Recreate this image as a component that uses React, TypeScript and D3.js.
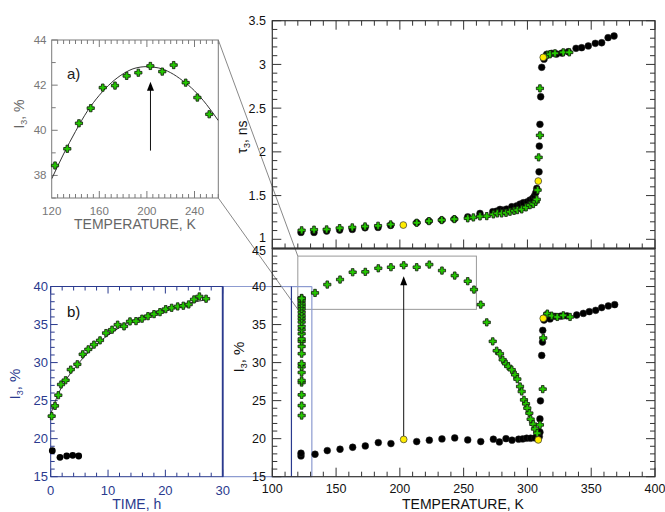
import React from "react";
import * as d3 from "d3";

// tick labels
const tempTicks = [100, 150, 200, 250, 300, 350, 400];
const tauTicks = [1, 1.5, 2, 2.5, 3, 3.5];
const i3Ticks = [15, 20, 25, 30, 35, 40, 45];
const insetATempTicks = [120, 160, 200, 240];
const insetAI3Ticks = [38, 40, 42, 44];
const timeTicks = [0, 10, 20, 30];
const insetBI3Ticks = [15, 20, 25, 30, 35, 40];

// top panel: tau3 vs temperature
const tauCircleT = [122.5, 132.7, 142.6, 152.8, 162.7, 172.7, 182.9, 192.8, 213.2, 222.8, 232.8, 242.7, 253.2, 262.8, 272.8, 275.9, 278.5, 281.1, 283.7, 287.7, 291.6, 294.2, 296.8, 299.9, 302, 304.1, 305.4, 306.5, 307.3, 309.1, 309.3, 309.8, 310.4, 311.2, 313, 315.1, 319, 322.9, 327, 332, 338.1, 342.5, 347.7, 353.2, 358.2, 363.2, 367.9];
const tauCircleV = [1.079, 1.079, 1.094, 1.105, 1.113, 1.132, 1.136, 1.159, 1.189, 1.208, 1.22, 1.231, 1.257, 1.296, 1.315, 1.323, 1.342, 1.334, 1.346, 1.372, 1.383, 1.403, 1.418, 1.429, 1.449, 1.468, 1.494, 1.532, 1.582, 1.772, 2.066, 2.315, 2.63, 2.967, 3.06, 3.116, 3.127, 3.119, 3.13, 3.145, 3.184, 3.191, 3.211, 3.241, 3.248, 3.306, 3.325];
const tauCrossT = [123, 132.7, 142.6, 152.8, 162.7, 172.7, 182.9, 192.8, 213.2, 222.8, 232.8, 242.7, 253.2, 257.6, 262.8, 268.1, 273.3, 276.4, 279.8, 283.2, 286.3, 289.5, 292.1, 295.5, 298.9, 302, 304.6, 306.5, 307.3, 308, 308.8, 309.8, 309.8, 315.6, 317.7, 321.6, 328.1, 332.8];
const tauCrossV = [1.103, 1.11, 1.113, 1.128, 1.136, 1.147, 1.155, 1.17, 1.189, 1.208, 1.22, 1.231, 1.24, 1.25, 1.262, 1.265, 1.285, 1.296, 1.296, 1.303, 1.315, 1.326, 1.334, 1.342, 1.365, 1.391, 1.403, 1.429, 1.456, 1.563, 1.937, 2.189, 2.726, 3.11, 3.116, 3.127, 3.138, 3.138];
const tauYellowT = [202.7, 308.5, 312.4];
const tauYellowV = [1.163, 1.666, 3.081];

// bottom panel: I3 vs temperature
const i3CircleT = [122.5, 122.5, 133.5, 143.1, 153.1, 163, 172.9, 183.1, 193, 213.2, 223.1, 233, 243, 253.2, 263.4, 273.3, 278, 283.2, 287.9, 293.1, 296.3, 299.4, 302.5, 305.9, 309.3, 309.8, 309.8, 310.2, 311.2, 311.8, 312, 313, 315.1, 317.7, 321.6, 326, 331, 338.6, 343.8, 348.5, 353.5, 358.2, 363.4, 368.4];
const i3CircleV = [17.73, 18.08, 17.95, 18.43, 18.61, 18.87, 19.04, 19.48, 19.35, 19.62, 19.8, 19.97, 20.1, 19.84, 19.62, 19.93, 19.57, 20.0, 19.8, 19.93, 19.97, 20.06, 20.06, 20.1, 20.27, 20.85, 22.6, 24.97, 30.94, 32.7, 34.24, 35.6, 36.3, 35.74, 36.08, 36.1, 36.15, 36.26, 36.47, 36.7, 36.87, 37.23, 37.45, 37.62];
const i3CrossT = [123, 133.5, 143.1, 153.1, 163, 172.9, 183.1, 193, 203, 213.2, 223.1, 233, 243, 253.2, 258.1, 263.4, 268.1, 272.8, 275.9, 278.5, 280.6, 283.2, 285, 287.7, 290.3, 292.1, 294.2, 295.5, 297.3, 298.9, 299.9, 301.5, 302.5, 304.6, 305.9, 307.7, 309.8, 312, 312.4, 315.6, 319, 323.4, 328.1, 333.4];
const i3CrossV = [38.44, 39.16, 40.26, 40.92, 41.88, 41.93, 42.4, 42.54, 42.8, 42.54, 42.89, 42.1, 41.44, 40.7, 39.6, 37.62, 35.29, 32.79, 31.56, 31.17, 30.38, 29.85, 29.5, 29.06, 28.4, 27.83, 26.86, 26.2, 25.1, 24.58, 24.01, 23.35, 22.56, 21.9, 21.28, 20.72, 21.81, 26.51, 33.24, 36.44, 36.17, 36.0, 36.21, 36.0];
// isothermal hold at 123 K (same column of crosses)
const holdTemp = 123;
const holdI3 = [23.04, 24.35, 25.76, 27.38, 27.65, 28.7, 29.45, 29.85, 31.17, 32.13, 32.79, 33.1, 33.8, 34.33, 34.77, 35.34, 35.78, 36.17, 36.61, 37.05, 37.4, 37.75, 38.15, 38.5];
const i3YellowT = [203, 308.5, 312.4];
const i3YellowV = [19.9, 19.84, 35.82];

// inset a)
const insetATemp = [122.8, 133.1, 142.9, 152.8, 162.9, 173.2, 183, 192.8, 202.9, 212.9, 222.5, 232.6, 242.4, 252.4];
const insetAI3 = [38.44, 39.18, 40.31, 40.98, 41.89, 41.98, 42.41, 42.55, 42.85, 42.6, 42.89, 42.11, 41.45, 40.71];
const fitATemp = [120, 130, 140, 150, 160, 170, 180, 190, 200, 210, 220, 230, 240, 250, 260];
const fitAI3 = [37.85, 38.95, 39.95, 40.85, 41.55, 42.1, 42.5, 42.75, 42.82, 42.76, 42.55, 42.2, 41.75, 41.15, 40.43];

// inset b)
const timeH = [0.17, 0.75, 1.33, 1.8, 2.6, 3.5, 4.65, 5.58, 6.56, 7.55, 8.6, 9.65, 10.7, 11.68, 12.79, 13.83, 14.88, 15.93, 16.97, 18.02, 19.06, 20.06, 21.1, 22.15, 23.13, 24.07, 25, 25.93, 27.1];
const timeI3 = [22.96, 24.31, 25.71, 27.12, 27.68, 29.08, 29.78, 31.09, 31.74, 32.36, 32.92, 33.88, 34.32, 34.98, 34.76, 35.41, 35.45, 35.77, 36.1, 36.37, 36.63, 37.02, 37.2, 37.38, 37.47, 37.64, 38.3, 38.69, 38.39];
const timeCircleH = [0.28, 1.62, 2.79, 3.84, 4.88];
const timeCircleI3 = [18.42, 17.55, 17.72, 17.81, 17.72];
const fitBH = [0, 0.5, 1, 2, 3, 4, 6, 8, 10, 12, 14, 16, 18, 20, 22, 24, 26, 27.5];
const fitBI3 = [23.2, 24.3, 25.3, 26.9, 28.1, 29.1, 30.9, 32.4, 33.6, 34.6, 35.4, 36.0, 36.6, 37.05, 37.45, 37.8, 38.1, 38.3];

const FONT = "'Liberation Sans', Arial, Helvetica, sans-serif";
const GREEN = "#24c800";
const NAVY = "#2a3a8e";
const LIGHTBLUE = "#8d9bd0";
const GRAY = "#7a7a7a";

const mx = d3.scaleLinear().domain([100, 400]).range([272.3, 655]);
const tauY = d3.scaleLinear().domain([1, 3.5]).range([239.3, 20.7]);
const i3Y = d3.scaleLinear().domain([15, 45]).range([476.7, 248.5]);
const ax = d3.scaleLinear().domain([120, 260]).range([51.7, 218.3]);
const ay = d3.scaleLinear().domain([37, 44]).range([198, 40]);
const bx = d3.scaleLinear().domain([0, 30]).range([50.7, 222.7]);
const by = d3.scaleLinear().domain([15, 40]).range([476.7, 286.5]);

const plus = (cx: number, cy: number, r = 3.6, w = 1.3) =>
  `M${cx - w},${cy - r}H${cx + w}V${cy - w}H${cx + r}V${cy + w}H${cx + w}V${cy + r}H${cx - w}V${cy + w}H${cx - r}V${cy - w}H${cx - w}Z`;

const Cross = ({ x, y }: { x: number; y: number }) => (
  <path d={plus(x, y)} fill={GREEN} stroke="#152010" strokeWidth={0.85} />
);

const near = (a: number, list: number[]) => list.some((b) => Math.abs(a - b) < 1e-6);

// vertical axis ticks: x fixed, len signed (positive = to the right)
const vTicks = (vals: number[], x: number, y: (v: number) => number, len: number, stroke: string, key: string) =>
  vals.map((v, i) => (
    <line key={key + i} x1={x} x2={x + len} y1={y(v)} y2={y(v)} stroke={stroke} strokeWidth={1} />
  ));
const hTicks = (vals: number[], y: number, x: (v: number) => number, len: number, stroke: string, key: string) =>
  vals.map((v, i) => (
    <line key={key + i} x1={x(v)} x2={x(v)} y1={y} y2={y + len} stroke={stroke} strokeWidth={1} />
  ));

const arrowHead = (x: number, y: number) => `M${x},${y}L${x - 3.5},${y + 9}L${x + 3.5},${y + 9}Z`;

const Sub3 = ({ main, rest }: { main: string; rest: string }) => (
  <>
    {main}
    <tspan fontSize={9} dy={3}>3</tspan>
    <tspan dy={-3}>{rest}</tspan>
  </>
);

export default function App() {
  const L = mx(100), R = mx(400);
  const top = tauY(3.5), mid = i3Y(45), bot = i3Y(15);

  const tempMinor = d3.range(100, 401, 10).filter((v) => !near(v, tempTicks));
  const tauMinor = d3.range(10, 36, 1).map((v) => v / 10).filter((v) => !near(v, tauTicks));
  const i3Minor = d3.range(15, 46, 1).filter((v) => !near(v, i3Ticks));

  const aTempMinor = d3.range(120, 261, 5).filter((v) => !near(v, [120, 160, 200, 240]));
  const aI3Minor = [37, 39, 41, 43];
  const bTimeMinor = d3.range(0, 31, 2).filter((v) => v % 10 !== 0);
  const bI3Minor = d3.range(15, 41, 1).filter((v) => !near(v, insetBI3Ticks));

  const lineA = d3.line<number>().x((d, i) => ax(fitATemp[i])).y((d) => ay(d)).curve(d3.curveMonotoneX);
  const lineB = d3.line<number>().x((d, i) => bx(fitBH[i])).y((d) => by(d)).curve(d3.curveMonotoneX);

  const axis = "#333";

  return (
    <svg
      width={665}
      height={512}
      style={{ position: "absolute", left: 0, top: 0, background: "#fff" }}
      fontFamily={FONT}
    >
      <defs>
        <clipPath id="clipA">
          <rect x={ax(120)} y={ay(44)} width={ax(260) - ax(120)} height={ay(37) - ay(44)} />
        </clipPath>
      </defs>

      {/* connecting lines from inset a to zoom box */}
      <line x1={ax(260)} y1={ay(44)} x2={mx(120)} y2={i3Y(44)} stroke={GRAY} strokeWidth={0.9} />
      <line x1={ax(260)} y1={ay(37)} x2={mx(120)} y2={i3Y(37)} stroke={GRAY} strokeWidth={0.9} />
      <rect x={mx(120)} y={i3Y(44)} width={mx(260) - mx(120)} height={i3Y(37) - i3Y(44)} fill="none" stroke="#999" strokeWidth={1} />

      {/* blue connection for inset b */}
      <line x1={bx(30)} y1={by(40)} x2={mx(131)} y2={i3Y(40)} stroke={LIGHTBLUE} strokeWidth={1.2} />
      <line x1={bx(30)} y1={by(15)} x2={mx(131)} y2={i3Y(15)} stroke={LIGHTBLUE} strokeWidth={1.2} />
      <line x1={mx(131)} y1={i3Y(40)} x2={mx(131)} y2={i3Y(15)} stroke={LIGHTBLUE} strokeWidth={1.2} />
      <line x1={mx(115)} y1={i3Y(40)} x2={mx(115)} y2={i3Y(15)} stroke={NAVY} strokeWidth={1.2} />

      {/* ===== main top panel ===== */}
      <rect x={L} y={top} width={R - L} height={mid - top} fill="none" stroke={axis} strokeWidth={1.2} />
      {vTicks(tauMinor, L, tauY, 5, axis, "tlm")}
      {vTicks(tauTicks, L, tauY, 9, axis, "tlM")}
      {vTicks(tauMinor, R, tauY, -5, axis, "trm")}
      {vTicks(tauTicks, R, tauY, -9, axis, "trM")}
      {hTicks(tempMinor, top, mx, 5, axis, "ttm")}
      {hTicks(tempTicks, top, mx, 9, axis, "ttM")}
      {hTicks(tempMinor, mid, mx, -5, axis, "tbm")}
      {hTicks(tempTicks, mid, mx, -9, axis, "tbM")}
      {tauTicks.map((v) => (
        <text key={"tl" + v} x={266} y={tauY(v) + (v === 1 ? 3 : 4.5)} textAnchor="end" fontSize={12.5} fill="#111">
          {v}
        </text>
      ))}
      <text transform={`translate(247,137) rotate(-90)`} textAnchor="middle" fontSize={14} fill="#111">
        <Sub3 main="τ" rest=", ns" />
      </text>

      {tauCircleT.map((t, i) => (
        <circle key={"tc" + i} cx={mx(t)} cy={tauY(tauCircleV[i])} r={3.4} fill="#000" stroke="#222" strokeWidth={0.5} />
      ))}
      {tauCrossT.map((t, i) => (
        <Cross key={"tx" + i} x={mx(t)} y={tauY(tauCrossV[i])} />
      ))}
      {tauYellowT.map((t, i) => (
        <circle key={"ty" + i} cx={mx(t)} cy={tauY(tauYellowV[i])} r={3.4} fill="#ffec00" stroke="#333" strokeWidth={0.7} />
      ))}

      {/* ===== main bottom panel ===== */}
      <rect x={L} y={mid} width={R - L} height={bot - mid} fill="none" stroke={axis} strokeWidth={1.2} />
      <line x1={L} x2={R} y1={mid} y2={mid} stroke={axis} strokeWidth={2} />
      {vTicks(i3Minor, L, i3Y, 5, axis, "blm")}
      {vTicks(i3Ticks, L, i3Y, 9, axis, "blM")}
      {vTicks(i3Minor, R, i3Y, -5, axis, "brm")}
      {vTicks(i3Ticks, R, i3Y, -9, axis, "brM")}
      {hTicks(tempMinor, bot, mx, -5, axis, "bbm")}
      {hTicks(tempTicks, bot, mx, -9, axis, "bbM")}
      {i3Ticks.map((v) => (
        <text key={"bl" + v} x={266} y={i3Y(v) + (v === 45 ? 6.5 : 4.5)} textAnchor="end" fontSize={12.5} fill="#111">
          {v}
        </text>
      ))}
      {tempTicks.map((v) => (
        <text key={"bx" + v} x={mx(v)} y={493} textAnchor="middle" fontSize={12.5} fill="#111">
          {v}
        </text>
      ))}
      <text x={463} y={509} textAnchor="middle" fontSize={14} fill="#111">
        TEMPERATURE, K
      </text>
      <text transform={`translate(244,357) rotate(-90)`} textAnchor="middle" fontSize={15} fill="#111">
        <Sub3 main="I" rest=", %" />
      </text>

      {/* arrow in main bottom panel */}
      <line x1={mx(203)} x2={mx(203)} y1={i3Y(19.9)} y2={i3Y(41.35) + 8} stroke="#111" strokeWidth={1} />
      <path d={arrowHead(mx(203), i3Y(41.35))} fill="#000" />

      {i3CircleT.map((t, i) => (
        <circle key={"bc" + i} cx={mx(t)} cy={i3Y(i3CircleV[i])} r={3.4} fill="#000" stroke="#222" strokeWidth={0.5} />
      ))}
      {holdI3.map((v, i) => (
        <Cross key={"bh" + i} x={mx(holdTemp)} y={i3Y(v)} />
      ))}
      {i3CrossT.map((t, i) => (
        <Cross key={"bx" + i} x={mx(t)} y={i3Y(i3CrossV[i])} />
      ))}
      {i3YellowT.map((t, i) => (
        <circle key={"by" + i} cx={mx(t)} cy={i3Y(i3YellowV[i])} r={3.4} fill="#ffec00" stroke="#333" strokeWidth={0.7} />
      ))}

      {/* ===== inset a ===== */}
      <rect x={ax(120)} y={ay(44)} width={ax(260) - ax(120)} height={ay(37) - ay(44)} fill="#fff" stroke={GRAY} strokeWidth={1} />
      {vTicks(aI3Minor, ax(120), ay, 4, GRAY, "alm")}
      {vTicks(insetAI3Ticks, ax(120), ay, 6, GRAY, "alM")}
      {hTicks(aTempMinor, ay(37), ax, -4, GRAY, "abm")}
      {hTicks([160, 200, 240], ay(37), ax, -7, GRAY, "abM")}
      {hTicks(aTempMinor, ay(44), ax, 4, GRAY, "atm")}
      {hTicks([160, 200, 240], ay(44), ax, 7, GRAY, "atM")}
      {insetAI3Ticks.map((v) => (
        <text key={"al" + v} x={46.5} y={ay(v) + 4} textAnchor="end" fontSize={11.5} fill="#777">
          {v}
        </text>
      ))}
      {insetATempTicks.map((v) => (
        <text key={"ax" + v} x={ax(v)} y={214.5} textAnchor="middle" fontSize={11.5} fill="#777">
          {v}
        </text>
      ))}
      <text x={135} y={229} textAnchor="middle" fontSize={14} fill="#666">
        TEMPERATURE, K
      </text>
      <text transform={`translate(24,114) rotate(-90)`} textAnchor="middle" fontSize={14} fill="#666">
        <Sub3 main="I" rest=", %" />
      </text>
      <text x={67} y={79} fontSize={15} fill="#222">
        a)
      </text>
      <path d={lineA(fitAI3) || ""} fill="none" stroke="#333" strokeWidth={1} clipPath="url(#clipA)" />
      <line x1={ax(203)} x2={ax(203)} y1={ay(39.1)} y2={ay(42.15) + 8} stroke="#111" strokeWidth={1} />
      <path d={arrowHead(ax(203), ay(42.15))} fill="#000" />
      {insetATemp.map((t, i) => (
        <Cross key={"ac" + i} x={ax(t)} y={ay(insetAI3[i])} />
      ))}

      {/* ===== inset b ===== */}
      <rect x={bx(0)} y={by(40)} width={bx(30) - bx(0)} height={by(15) - by(40)} fill="none" stroke={NAVY} strokeWidth={1} />
      <line x1={bx(30)} x2={bx(30)} y1={by(40)} y2={by(15)} stroke={NAVY} strokeWidth={1.8} />
      {vTicks(bI3Minor, bx(0), by, 4, NAVY, "blm2")}
      {vTicks(insetBI3Ticks, bx(0), by, 7, NAVY, "blM2")}
      {hTicks(bTimeMinor, by(15), bx, -4, NAVY, "bbm2")}
      {hTicks(timeTicks, by(15), bx, -7, NAVY, "bbM2")}
      {hTicks(bTimeMinor, by(40), bx, 4, NAVY, "btm2")}
      {hTicks(timeTicks, by(40), bx, 7, NAVY, "btM2")}
      {insetBI3Ticks.map((v) => (
        <text key={"bl2" + v} x={48} y={by(v) + 4.5} textAnchor="end" fontSize={13} fill={NAVY}>
          {v}
        </text>
      ))}
      {timeTicks.map((v) => (
        <text key={"bx2" + v} x={bx(v)} y={495} textAnchor="middle" fontSize={13} fill={NAVY}>
          {v}
        </text>
      ))}
      <text x={136.7} y={509} textAnchor="middle" fontSize={14} fill={NAVY}>
        TIME, h
      </text>
      <text transform={`translate(20,384) rotate(-90)`} textAnchor="middle" fontSize={15} fill={NAVY}>
        <Sub3 main="I" rest=", %" />
      </text>
      <text x={67} y={317} fontSize={15} fill="#111">
        b)
      </text>
      <path d={lineB(fitBI3) || ""} fill="none" stroke="#333" strokeWidth={1} />
      {timeCircleH.map((t, i) => (
        <circle key={"bcc" + i} cx={bx(t)} cy={by(timeCircleI3[i])} r={3.4} fill="#000" />
      ))}
      {timeH.map((t, i) => (
        <Cross key={"bt" + i} x={bx(t)} y={by(timeI3[i])} />
      ))}
    </svg>
  );
}
